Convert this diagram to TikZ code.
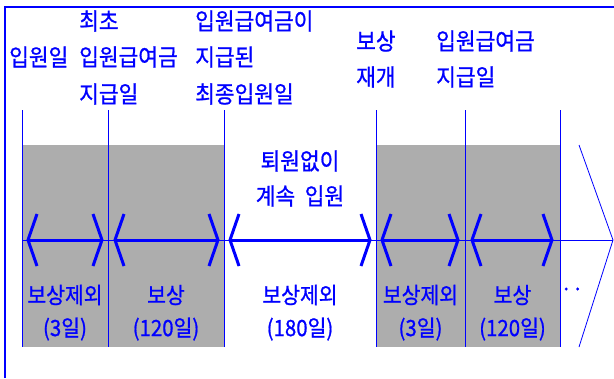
\documentclass[tikz,border=0pt]{standalone}
\usepackage{fontspec}
\setmainfont{Noto Sans CJK KR}[FakeBold=0.9]
\definecolor{boxgray}{RGB}{173,173,173}
\newcommand{\tall}[1]{\scalebox{1}[1.1]{#1}}
\begin{document}
\begin{tikzpicture}[x=1bp,y=-1bp,
 lbl/.style={text=blue, inner sep=0pt, font=\fontsize{21.5}{21.5}\selectfont},
 toplbl/.style={lbl, anchor=west},
 seglbl/.style={lbl, font=\fontsize{20.5}{20.5}\selectfont},
 vline/.style={blue, line width=0.8bp},
 thickline/.style={blue, line width=3bp},
 brk/.style={blue, line width=3bp, line join=miter}]
\useasboundingbox (0,0) rectangle (614,378);
\fill[boxgray] (22,145) rectangle (224,347);
\fill[boxgray] (376,145) rectangle (560,347);
\draw[blue, line width=1.2bp] (5,378) -- (5,7) -- (614,7);
\foreach \x in {22,108,224,376,465,560} \draw[vline] (\x,110) -- (\x,347);
\coordinate (a0) at (22,240);
\coordinate (tip) at (613,240);
\coordinate (ct) at (579,145);
\coordinate (cb) at (579,347);
\draw[vline] (a0) -- (tip);
\draw[vline] (ct) -- (tip) -- (cb);
\foreach \i/\l/\r in {1/28/102, 2/115/218, 3/230/370, 4/382/458, 5/472/552} {
  \coordinate (L\i) at (\l,240);
  \coordinate (R\i) at (\r,240);
  \draw[thickline] (L\i) -- (R\i);
  \draw[brk] (L\i) ++(9,-26) -- (L\i) -- ++(9,26);
  \draw[brk] (R\i) ++(-9,-26) -- (R\i) -- ++(-9,26);
}
% top labels
\node[toplbl] (t1) at (9,57) {\tall{입원일}};
\node[toplbl] (t2a) at (79,21) {\tall{최초}};
\node[toplbl] (t2b) at (79,57) {\tall{입원급여금}};
\node[toplbl] (t2c) at (79,94) {\tall{지급일}};
\node[toplbl] (t3a) at (195,21) {\tall{입원급여금이}};
\node[toplbl] (t3b) at (195,57) {\tall{지급된}};
\node[toplbl] (t3c) at (195,94) {\tall{최종입원일}};
\node[toplbl] (t4a) at (356,41) {\tall{보상}};
\node[toplbl] (t4b) at (356,77) {\tall{재개}};
\node[toplbl] (t5a) at (436,41) {\tall{입원급여금}};
\node[toplbl] (t5b) at (436,77) {\tall{지급일}};
\node[lbl] (m1) at (300,161) {\tall{퇴원없이}};
\node[lbl] (m2) at (300,196) {\tall{계속\ \ 입원}};
% segment labels
\node[seglbl] (s1a) at (65,295) {\tall{보상제외}};
\node[seglbl] (s1b) at (65,329) {\tall{(3일)}};
\node[seglbl] (s2a) at (166,295) {\tall{보상}};
\node[seglbl] (s2b) at (166,329) {\tall{(120일)}};
\node[seglbl] (s3a) at (300,295) {\tall{보상제외}};
\node[seglbl] (s3b) at (300,329) {\tall{(180일)}};
\node[seglbl] (s4a) at (420.5,295) {\tall{보상제외}};
\node[seglbl] (s4b) at (420.5,329) {\tall{(3일)}};
\node[seglbl] (s5a) at (512.5,295) {\tall{보상}};
\node[seglbl] (s5b) at (512.5,329) {\tall{(120일)}};
\node[seglbl] (dots) at (572,292) {··};
\end{tikzpicture}
\end{document}
